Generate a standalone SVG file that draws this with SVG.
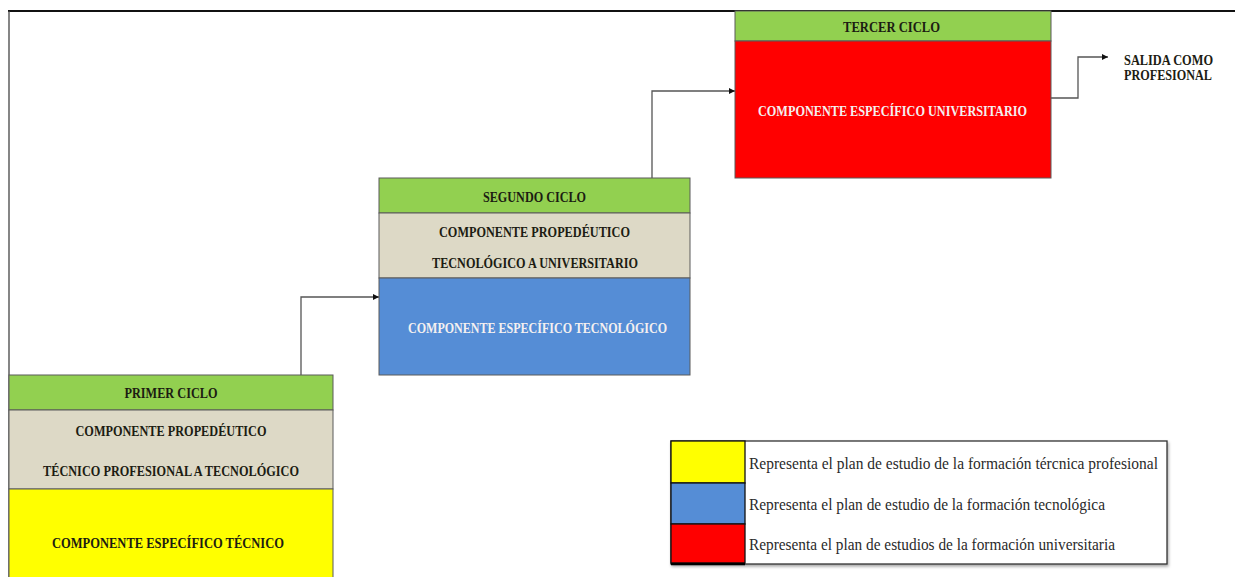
<svg xmlns="http://www.w3.org/2000/svg" width="1235" height="577" viewBox="0 0 1235 577">
<defs>
<style>
.hd{fill:#92d050;stroke:#5a5a5a;stroke-width:1}
.pr{fill:#ddd9c6;stroke:#5a5a5a;stroke-width:1}
.t{font-family:"Liberation Serif","Times New Roman",serif;font-weight:bold;font-size:15.5px;fill:#1c1c12;text-anchor:middle}
.w{fill:#f4f0f0}
.lg{font-family:"Liberation Serif","Times New Roman",serif;font-size:17px;fill:#2a2a2a}
.cn{fill:none;stroke:#555;stroke-width:1.3}
</style>
<marker id="ar" markerWidth="8" markerHeight="8" refX="6" refY="3" orient="auto" markerUnits="userSpaceOnUse">
<path d="M0,0 L6,3 L0,6 z" fill="#111"/>
</marker>
<filter id="sh" x="-5%" y="-5%" width="110%" height="115%">
<feDropShadow dx="1" dy="2" stdDeviation="1.5" flood-color="#000" flood-opacity="0.35"/>
</filter>
</defs>
<rect width="1235" height="577" fill="#fff"/>
<g id="frame">
<line x1="8" y1="11" x2="1235" y2="11" stroke="#111" stroke-width="2"/>
<line x1="9" y1="11" x2="9" y2="577" stroke="#444" stroke-width="1.3"/>
</g>
<g id="connectors">
<polyline class="cn" points="301,375 301,297 379,297" marker-end="url(#ar)"/>
<polyline class="cn" points="652,178 652,91 735,91" marker-end="url(#ar)"/>
<polyline class="cn" points="1051,98 1078,98 1078,57 1108,57" marker-end="url(#ar)"/>
</g>
<g id="primer-ciclo">
<rect class="hd" x="9" y="375" width="324" height="35"/>
<rect class="pr" x="9" y="410" width="324" height="79"/>
<rect x="9" y="489" width="324" height="90" fill="#ffff00" stroke="#5a5a5a" stroke-width="1"/>
<text class="t" x="171" y="398" textLength="93" lengthAdjust="spacingAndGlyphs">PRIMER CICLO</text>
<text class="t" x="171" y="436" textLength="191" lengthAdjust="spacingAndGlyphs">COMPONENTE PROPEDÉUTICO</text>
<text class="t" x="171" y="476" textLength="256" lengthAdjust="spacingAndGlyphs">TÉCNICO PROFESIONAL A TECNOLÓGICO</text>
<text class="t" x="168" y="548" textLength="232" lengthAdjust="spacingAndGlyphs">COMPONENTE ESPECÍFICO TÉCNICO</text>
</g>
<g id="segundo-ciclo">
<rect class="hd" x="379" y="178" width="311" height="35"/>
<rect class="pr" x="379" y="213" width="311" height="65"/>
<rect x="379" y="278" width="311" height="97" fill="#558dd6" stroke="#5a5a5a" stroke-width="1"/>
<text class="t" x="534.5" y="202" textLength="103" lengthAdjust="spacingAndGlyphs">SEGUNDO CICLO</text>
<text class="t" x="534.5" y="237" textLength="191" lengthAdjust="spacingAndGlyphs">COMPONENTE PROPEDÉUTICO</text>
<text class="t" x="535" y="268" textLength="206" lengthAdjust="spacingAndGlyphs">TECNOLÓGICO A UNIVERSITARIO</text>
<text class="t w" x="537.5" y="333" textLength="259" lengthAdjust="spacingAndGlyphs">COMPONENTE ESPECÍFICO TECNOLÓGICO</text>
</g>
<g id="tercer-ciclo">
<rect class="hd" x="735" y="11" width="316" height="30"/>
<rect x="735" y="41" width="316" height="137" fill="#ff0000" stroke="#5a5a5a" stroke-width="1"/>
<text class="t" x="891.5" y="32" textLength="97" lengthAdjust="spacingAndGlyphs">TERCER CICLO</text>
<text class="t w" x="892.5" y="116" textLength="269" lengthAdjust="spacingAndGlyphs">COMPONENTE ESPECÍFICO UNIVERSITARIO</text>
</g>
<g id="salida">
<text class="t" x="1168.5" y="65" textLength="89" lengthAdjust="spacingAndGlyphs">SALIDA COMO</text>
<text class="t" x="1168" y="80" textLength="88" lengthAdjust="spacingAndGlyphs">PROFESIONAL</text>
</g>
<g id="legend">
<rect x="671" y="441" width="496" height="123" fill="#fff" stroke="#333" stroke-width="1.3" filter="url(#sh)"/>
<rect x="671" y="441" width="74" height="42" fill="#ffff00" stroke="#111" stroke-width="1.3"/>
<rect x="671" y="483" width="74" height="41" fill="#558dd6" stroke="#111" stroke-width="1.3"/>
<rect x="671" y="524" width="74" height="39" fill="#ff0000" stroke="#111" stroke-width="1.3"/>
<line x1="671" y1="564" x2="745" y2="564" stroke="#000" stroke-width="2.5"/>
<text class="lg" x="749" y="469" textLength="409" lengthAdjust="spacingAndGlyphs">Representa el plan de estudio de la formación tércnica profesional</text>
<text class="lg" x="749" y="510" textLength="356" lengthAdjust="spacingAndGlyphs">Representa el plan de estudio de la formación tecnológica</text>
<text class="lg" x="749" y="550" textLength="366" lengthAdjust="spacingAndGlyphs">Representa el plan de estudios de la formación universitaria</text>
</g>
</svg>
